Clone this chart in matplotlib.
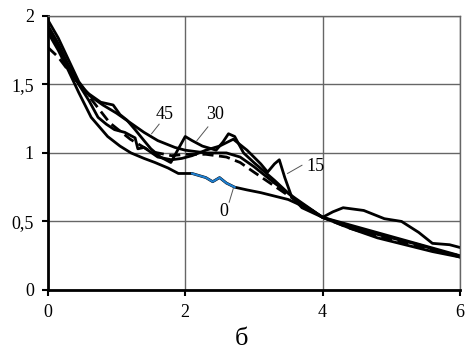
import numpy as np
import matplotlib.pyplot as plt

# curve data
x45 = [0, 0.15, 0.3, 0.45, 0.6, 0.8, 1.0, 1.2, 1.4, 1.6, 1.85, 2.0, 2.3, 2.6, 2.8, 3.0, 3.3, 3.6, 4.0, 4.5, 5.0, 5.5, 6.0]
y45 = [1.97, 1.84, 1.68, 1.52, 1.42, 1.35, 1.29, 1.22, 1.15, 1.09, 1.04, 1.02, 1.0, 1.0, 0.97, 0.9, 0.78, 0.67, 0.53, 0.46, 0.39, 0.32, 0.25]

x30 = [0, 0.15, 0.3, 0.45, 0.6, 0.77, 0.95, 1.05, 1.15, 1.27, 1.4, 1.5, 1.64, 1.79, 1.9, 2.0, 2.1, 2.25, 2.45, 2.55, 2.63, 2.72, 2.85, 3.0, 3.3, 3.6, 4.0, 4.3, 4.6, 5.0, 5.4, 5.8, 6.0]
y30 = [1.93, 1.8, 1.64, 1.5, 1.43, 1.37, 1.35, 1.28, 1.24, 1.17, 1.09, 1.03, 0.97, 0.93, 1.03, 1.12, 1.09, 1.05, 1.02, 1.08, 1.14, 1.12, 1.0, 0.93, 0.8, 0.66, 0.53, 0.48, 0.43, 0.38, 0.33, 0.27, 0.24]

x15 = [0, 0.15, 0.3, 0.45, 0.6, 0.73, 0.85, 0.97, 1.12, 1.27, 1.31, 1.4, 1.6, 1.8, 1.95, 2.1, 2.3, 2.5, 2.7, 2.9, 3.1, 3.2, 3.3, 3.37, 3.45, 3.55, 3.7, 4.0, 4.15, 4.3, 4.6, 4.9, 5.15, 5.4, 5.6, 5.85, 6.0]
y15 = [1.9, 1.78, 1.63, 1.5, 1.38, 1.26, 1.21, 1.17, 1.15, 1.11, 1.03, 1.04, 0.97, 0.95, 0.96, 0.98, 1.02, 1.05, 1.1, 1.02, 0.92, 0.86, 0.92, 0.95, 0.82, 0.68, 0.6, 0.53, 0.57, 0.6, 0.58, 0.52, 0.5, 0.42, 0.34, 0.33, 0.31]

xd = [0, 0.15, 0.3, 0.45, 0.65, 0.9, 1.2, 1.5, 1.8, 2.0, 2.3, 2.6, 2.8, 3.0, 3.5, 4.0, 4.4, 4.8, 5.2, 5.6, 6.0]
yd = [1.77, 1.7, 1.6, 1.5, 1.38, 1.22, 1.1, 1.01, 0.98, 0.99, 0.99, 0.97, 0.93, 0.86, 0.69, 0.53, 0.45, 0.39, 0.34, 0.29, 0.25]

x0 = [0, 0.15, 0.3, 0.45, 0.63, 0.87, 1.05, 1.21, 1.4, 1.56, 1.75, 1.9, 2.1, 2.3, 2.4, 2.5, 2.6, 2.72, 2.9, 3.1, 3.5, 3.85, 4.0, 4.4, 4.8, 5.2, 5.6, 6.0]
y0 = [1.88, 1.75, 1.6, 1.44, 1.26, 1.12, 1.05, 1.0, 0.96, 0.93, 0.89, 0.85, 0.85, 0.82, 0.79, 0.82, 0.78, 0.75, 0.73, 0.71, 0.66, 0.58, 0.53, 0.45, 0.38, 0.33, 0.28, 0.24]

xblue = [2.1, 2.3, 2.4, 2.5, 2.6, 2.72]
yblue = [0.85, 0.82, 0.79, 0.82, 0.78, 0.75]

labels = ['45', '30', '15', '0']
label_xy = [(1.70, 1.28), (2.43, 1.28), (3.90, 0.90), (2.56, 0.57)]
leader_from = [(1.51, 1.14), (2.17, 1.09), (3.49, 0.85), (2.70, 0.74)]
leader_to = [(1.62, 1.21), (2.33, 1.19), (3.70, 0.91), (2.64, 0.64)]

plt.rcParams['font.family'] = 'Liberation Serif'

fig = plt.figure(figsize=(4.65, 3.54), dpi=100)
ax = fig.add_axes([0.103, 0.181, 0.886, 0.774])

ax.grid(True, color='#666666', linewidth=1.0)
ax.set_axisbelow(True)

lw = 2.0
ax.plot(x45, y45, color='black', lw=lw)
ax.plot(x30, y30, color='black', lw=lw)
ax.plot(x15, y15, color='black', lw=lw)
ax.plot(xd, yd, color='black', lw=lw, linestyle=(0, (4, 2)))
ax.plot(x0, y0, color='black', lw=lw)
ax.plot(xblue, yblue, color='#1f7fd0', lw=1.5)

for lab, (tx, ty), (fx, fy), (gx, gy) in zip(labels, label_xy, leader_from, leader_to):
    ax.plot([fx, gx], [fy, gy], color='#555555', lw=0.7)
    ax.text(tx, ty, lab, fontsize=13, ha='center', va='center')

ax.set_xlim(0, 6)
ax.set_ylim(0, 2)
ax.set_xticks([0, 2, 4, 6])
ax.set_xticklabels(['0', '2', '4', '6'])
ax.set_yticks([0, 0.5, 1, 1.5, 2])
ax.set_yticklabels(['0', '0,5', '1', '1,5', '2'])
ax.tick_params(labelsize=13, length=4, width=1.5, direction='out', pad=6)

for s in ['left', 'bottom']:
    ax.spines[s].set_linewidth(2.0)
    ax.spines[s].set_color('black')
for s in ['top', 'right']:
    ax.spines[s].set_linewidth(1.0)
    ax.spines[s].set_color('#666666')

fig.text(0.52, 0.042, 'б', fontsize=19, ha='center', va='center')

fig.savefig('out.png', dpi=100)
